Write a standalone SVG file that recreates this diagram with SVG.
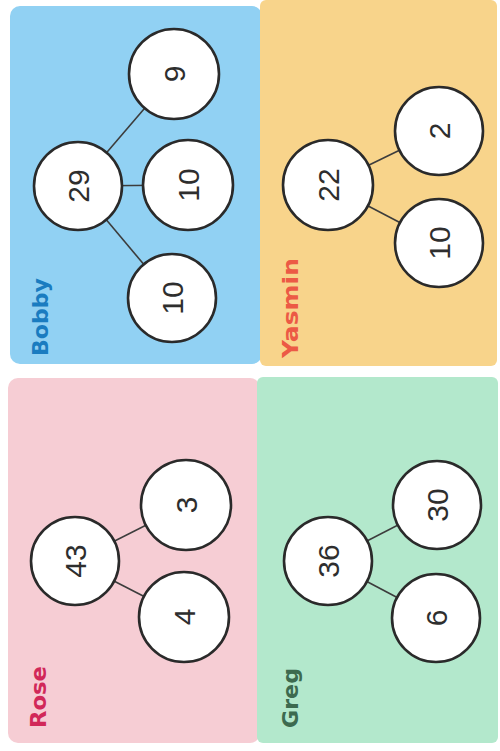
<svg xmlns="http://www.w3.org/2000/svg" width="500" height="751" viewBox="0 0 500 751">
<style>
.bg{stroke:none}
.c{fill:#ffffff;stroke:#2a2a2a;stroke-width:2.6}
.n{font-family:"Liberation Sans",Arial,sans-serif;font-size:30px;fill:#2e2e2e;text-anchor:middle;dominant-baseline:central}
.lbl{font-family:"DejaVu Sans",sans-serif;font-weight:bold;font-size:22px}
.ln{stroke:#3c3c3c;stroke-width:1.6;fill:none}
</style>
<rect width="500" height="751" fill="#ffffff"/>
<g id="panels">
<rect class="bg" x="10" y="6" width="252" height="358" rx="10" fill="#91d1f3"/>
<rect class="bg" x="260" y="0" width="237" height="366" rx="6" fill="#f8d48b"/>
<rect class="bg" x="8" y="378" width="252" height="365" rx="10" fill="#f6cdd4"/>
<rect class="bg" x="257" y="377" width="241" height="366" rx="6" fill="#b3e8cc"/>
</g>
<g id="connectors">
<line class="ln" x1="78" y1="186" x2="174" y2="74"/>
<line class="ln" x1="78" y1="186" x2="188" y2="185"/>
<line class="ln" x1="78" y1="186" x2="172" y2="298"/>
<line class="ln" x1="328" y1="185" x2="439" y2="131"/>
<line class="ln" x1="328" y1="185" x2="439" y2="243"/>
<line class="ln" x1="75" y1="561" x2="186" y2="505"/>
<line class="ln" x1="75" y1="561" x2="184" y2="617"/>
<line class="ln" x1="328" y1="561" x2="437" y2="505"/>
<line class="ln" x1="328" y1="561" x2="436" y2="618"/>
</g>
<g id="label-bobby"><text class="lbl" fill="#1a7cc0" x="48" y="356" transform="rotate(-90 48 356)" textLength="78" lengthAdjust="spacingAndGlyphs">Bobby</text></g>
<g id="label-yasmin"><text class="lbl" fill="#ec5a45" x="298" y="358" transform="rotate(-90 298 358)" textLength="100" lengthAdjust="spacingAndGlyphs">Yasmin</text></g>
<g id="label-rose"><text class="lbl" fill="#d12859" x="46" y="728" transform="rotate(-90 46 728)" textLength="62" lengthAdjust="spacingAndGlyphs">Rose</text></g>
<g id="label-greg"><text class="lbl" fill="#3d6a4f" x="298" y="728" transform="rotate(-90 298 728)" textLength="60" lengthAdjust="spacingAndGlyphs">Greg</text></g>
<g id="bobby-29"><circle class="c" cx="78" cy="186" r="44"/><text class="n" x="78" y="186" transform="rotate(-90 78 186)">29</text></g>
<g id="bobby-9"><circle class="c" cx="174" cy="74" r="45"/><text class="n" x="174" y="74" transform="rotate(-90 174 74)">9</text></g>
<g id="bobby-10a"><circle class="c" cx="188" cy="185" r="45"/><text class="n" x="188" y="185" transform="rotate(-90 188 185)">10</text></g>
<g id="bobby-10b"><circle class="c" cx="172" cy="298" r="44"/><text class="n" x="172" y="298" transform="rotate(-90 172 298)">10</text></g>
<g id="yasmin-22"><circle class="c" cx="328" cy="185" r="45"/><text class="n" x="328" y="185" transform="rotate(-90 328 185)">22</text></g>
<g id="yasmin-2"><circle class="c" cx="439" cy="131" r="44"/><text class="n" x="439" y="131" transform="rotate(-90 439 131)">2</text></g>
<g id="yasmin-10"><circle class="c" cx="439" cy="243" r="44"/><text class="n" x="439" y="243" transform="rotate(-90 439 243)">10</text></g>
<g id="rose-43"><circle class="c" cx="75" cy="561" r="44"/><text class="n" x="75" y="561" transform="rotate(-90 75 561)">43</text></g>
<g id="rose-3"><circle class="c" cx="186" cy="505" r="45"/><text class="n" x="186" y="505" transform="rotate(-90 186 505)">3</text></g>
<g id="rose-4"><circle class="c" cx="184" cy="617" r="45"/><text class="n" x="184" y="617" transform="rotate(-90 184 617)">4</text></g>
<g id="greg-36"><circle class="c" cx="328" cy="561" r="44"/><text class="n" x="328" y="561" transform="rotate(-90 328 561)">36</text></g>
<g id="greg-30"><circle class="c" cx="437" cy="505" r="44"/><text class="n" x="437" y="505" transform="rotate(-90 437 505)">30</text></g>
<g id="greg-6"><circle class="c" cx="436" cy="618" r="44"/><text class="n" x="436" y="618" transform="rotate(-90 436 618)">6</text></g>
</svg>
